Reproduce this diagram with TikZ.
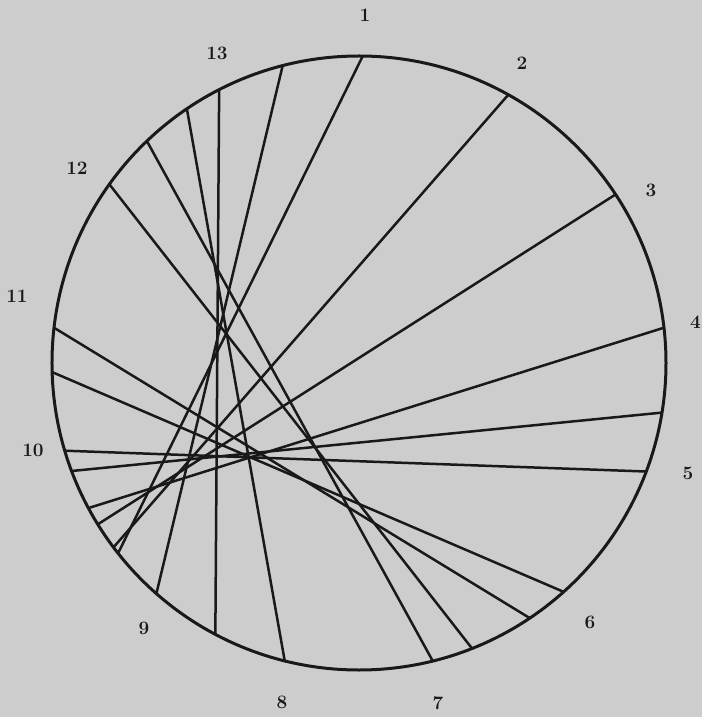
\documentclass[tikz,border=0pt]{standalone}
\usepackage{tikz}
\definecolor{paper}{RGB}{205,205,205}
\definecolor{ink}{RGB}{25,25,25}
\newcommand{\Rad}{307}

\begin{document}
\begin{tikzpicture}[x=1pt,y=1pt,
  chord/.style={ink,line width=2.5pt},
  rim/.style={ink,line width=3pt},
  tag/.style={ink,font=\fontsize{19}{19}\selectfont\bfseries,inner sep=0pt}]
  \fill[paper] (-359,-354) rectangle (343,363);
  \useasboundingbox (-359,-354) rectangle (343,363);
  \coordinate (O) at (0,0);
  % chords, end points by angle on the rim
  \foreach \n/\a/\b in {1/89.3/-141.7, 2/60.9/-143.1, 3/33.3/-148.3,
      4/6.6/-151.8, 5/-9.3/-159.4, 6/-20.7/-163.4, 7/173.4/-56.2,
      8/-178.3/-48.2, 9/144.4/-68.4, 10/133.7/-76.1, 11/124.1/-104,
      12/117.1/-117.9, 13/104.4/-131.3}{
    \coordinate (a\n) at (\a:\Rad);
    \coordinate (b\n) at (\b:\Rad);
    \draw[chord] (a\n) -- (b\n);
  }
  \draw[rim] (O) circle[radius=\Rad];
  % numbers round the rim
  \foreach \n/\x/\y in {1/6/348, 2/163/300, 3/292/173,
      5/329/-110, 6/231/-259, 7/79/-340, 8/-77/-339, 9/-215/-265,
      10/-326/-87, 11/-342/67, 12/-282/195, 13/-142/310}
    \node[tag] (l\n) at (\x,\y) {\n};
  \node[tag,anchor=east] (l4) at (342,41) {4};
\end{tikzpicture}
\end{document}
